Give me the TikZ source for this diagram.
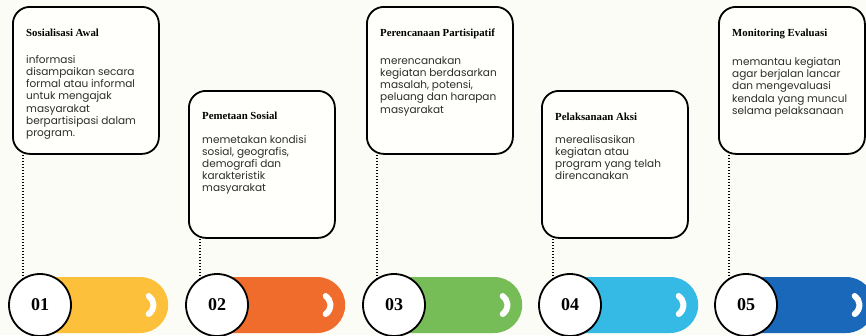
\documentclass[tikz,border=0pt]{standalone}
\usepackage{fontspec}
\setmainfont{Poppins}
\newfontfamily\headfont{Liberation Serif}
\usetikzlibrary{positioning, shapes.misc}
\definecolor{stBg}{RGB}{252,252,246}
\definecolor{stBox}{RGB}{255,255,251}
\definecolor{stYellow}{RGB}{252,192,58}
\definecolor{stOrange}{RGB}{240,108,44}
\definecolor{stGreen}{RGB}{118,189,88}
\definecolor{stCyan}{RGB}{52,186,228}
\definecolor{stBlue}{RGB}{26,104,186}
\definecolor{stText}{RGB}{45,45,45}

\begin{document}
\begin{tikzpicture}[
    x=1pt, y=1pt,
    card/.style={draw=black, line width=1.8pt, rounded corners=17pt, fill=stBox, minimum width=146pt, minimum height=147pt, anchor=north west},
    cardtitle/.style={inner sep=0pt, anchor=north west, font=\headfont\bfseries\fontsize{10.8}{12}\selectfont},
    cardtext/.style={inner sep=0pt, align=left, anchor=north west, font=\fontsize{10.5}{12.2}\selectfont, text=stText},
    numcircle/.style={circle, draw=black, line width=1.8pt, fill=white, minimum size=62pt, inner sep=0pt, font=\headfont\bfseries\fontsize{18}{18}\selectfont},
    pill/.style={rounded rectangle, rounded rectangle left arc=none, minimum height=56pt, minimum width=128pt, inner sep=0pt, anchor=west},
    chevron/.style={draw=white, line width=6pt, line cap=round},
    dotline/.style={line width=1.5pt, dash pattern=on 1.5pt off 1.5pt}
  ]
  \clip (0,0) rectangle (866,-335);
  \fill[stBg] (0,0) rectangle (866,-335);

  % cards
  \node[card] (c1) at (12,-6) {};
  \node[card] (c2) at (188,-90) {};
  \node[card] (c3) at (366,-6) {};
  \node[card] (c4) at (541,-90) {};
  \node[card] (c5) at (718,-6) {};

  \node[cardtitle, below right=23pt and 14pt of c1.north west] (h1) {Sosialisasi Awal};
  \node[cardtext, below right=18pt and 0pt of h1.south west] (t1) {informasi\\disampaikan secara\\formal atau informal\\untuk mengajak\\masyarakat\\berpartisipasi dalam\\program.};
  \node[cardtitle, below right=22pt and 14pt of c2.north west] (h2) {Pemetaan Sosial};
  \node[cardtext, below right=15pt and 0pt of h2.south west] (t2) {memetakan kondisi\\sosial, geografis,\\demografi dan\\karakteristik\\masyarakat};
  \node[cardtitle, below right=23pt and 14pt of c3.north west] (h3) {Perencanaan Partisipatif};
  \node[cardtext, below right=17pt and 0pt of h3.south west] (t3) {merencanakan\\kegiatan berdasarkan\\masalah, potensi,\\peluang dan harapan\\masyarakat};
  \node[cardtitle, below right=23pt and 14pt of c4.north west] (h4) {Pelaksanaan Aksi};
  \node[cardtext, below right=14pt and 0pt of h4.south west] (t4) {merealisasikan\\kegiatan atau\\program yang telah\\direncanakan};
  \node[cardtitle, below right=23pt and 14pt of c5.north west] (h5) {Monitoring Evaluasi};
  \node[cardtext, below right=18pt and 0pt of h5.south west] (t5) {memantau kegiatan\\agar berjalan lancar\\dan mengevaluasi\\kendala yang muncul\\selama pelaksanaan};

  % bars with chevrons
  \coordinate (s1) at (40,-305);
  \coordinate (s2) at (217,-305);
  \coordinate (s3) at (394,-305);
  \coordinate (s4) at (570,-305);
  \coordinate (s5) at (746,-305);
  \node[pill, fill=stYellow] (p1) at (s1) {};
  \node[pill, fill=stOrange] (p2) at (s2) {};
  \node[pill, fill=stGreen] (p3) at (s3) {};
  \node[pill, fill=stCyan] (p4) at (s4) {};
  \node[pill, fill=stBlue] (p5) at (s5) {};
  \draw[chevron] ([xshift=-26pt]p1.east) ++(-55:11) arc[start angle=-55, end angle=55, radius=11];
  \draw[chevron] ([xshift=-26pt]p2.east) ++(-55:11) arc[start angle=-55, end angle=55, radius=11];
  \draw[chevron] ([xshift=-26pt]p3.east) ++(-55:11) arc[start angle=-55, end angle=55, radius=11];
  \draw[chevron] ([xshift=-26pt]p4.east) ++(-55:11) arc[start angle=-55, end angle=55, radius=11];
  \draw[chevron] ([xshift=-26pt]p5.east) ++(-55:11) arc[start angle=-55, end angle=55, radius=11];

  % step numbers
  \node[numcircle] (n1) at (s1) {01};
  \node[numcircle] (n2) at (s2) {02};
  \node[numcircle] (n3) at (s3) {03};
  \node[numcircle] (n4) at (s4) {04};
  \node[numcircle] (n5) at (s5) {05};

  \draw[dotline] (n1.122 |- c1.south) -- (n1.122);
  \draw[dotline] (n2.122 |- c2.south) -- (n2.122);
  \draw[dotline] (n3.122 |- c3.south) -- (n3.122);
  \draw[dotline] (n4.122 |- c4.south) -- (n4.122);
  \draw[dotline] (n5.122 |- c5.south) -- (n5.122);
\end{tikzpicture}
\end{document}
